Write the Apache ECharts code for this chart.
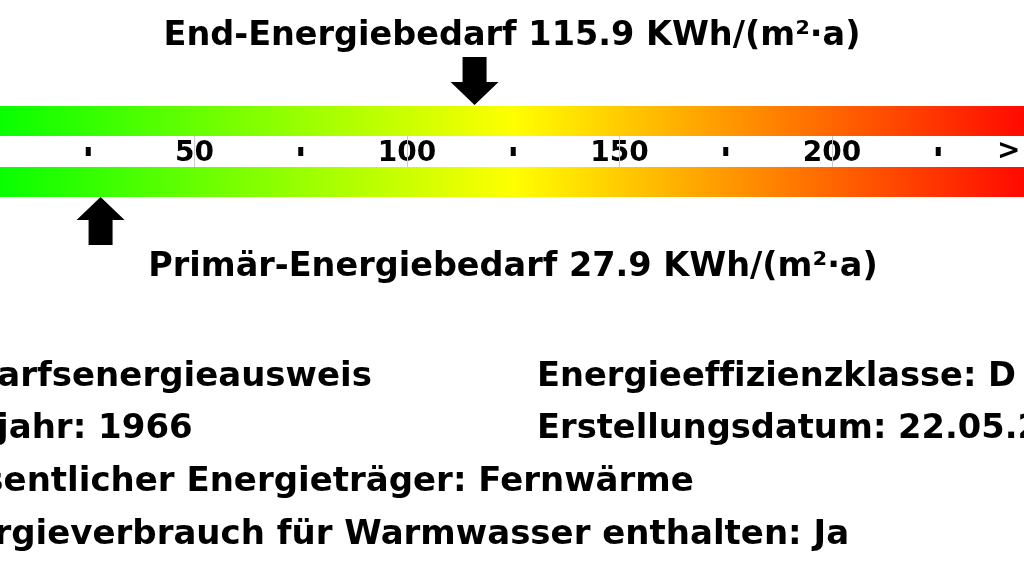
<!DOCTYPE html>
<html>
<head>
<meta charset="utf-8">
<script src="https://cdn.jsdelivr.net/npm/echarts@6/dist/echarts.min.js"></script>
<style>
html,body{margin:0;padding:0;background:#fff;}
#chart{width:1024px;height:576px;}
</style>
</head>
<body>
<div id="chart"></div>
<script>
// ---- data ----
const viewMin = 4.235;    // scale value at the left edge of the (cropped) picture
const viewMax = 245.18;   // scale value at the right edge
const labelValues = [50, 100, 150, 200];
const dotValues = [25, 75, 125, 175, 225];
const overflowLabel = ['>'];
const overflowValue = [241.6];
const barNames = ['End-Energiebedarf', 'Primär-Energiebedarf'];
const barValues = [115.9, 27.9];
const unitText = 'KWh/(m²·a)';
const infoLeft = [
  'Bedarfsenergieausweis',
  'Baujahr: 1966',
  'Wesentlicher Energieträger: Fernwärme',
  'Energieverbrauch für Warmwasser enthalten: Ja'
];
const infoRight = [
  'Energieef\u200Cf\u200Cizienzklasse: D',
  'Erstellungsdatum: 22.05.2'
];

// ---- chart ----
const chart = echarts.init(document.getElementById('chart'));
const FONT = '"DejaVu Sans", Verdana, sans-serif';

// gradient spans the full scale 0..250
const fullMin = 0, fullMax = 250;
const span = viewMax - viewMin;
const grad = () => new echarts.graphic.LinearGradient(
  (fullMin - viewMin) / span, 0, (fullMax - viewMin) / span, 0, [
  {offset: 0, color: '#00ff00'},
  {offset: 0.5, color: '#ffff00'},
  {offset: 1, color: '#ff0000'}
]);

const arrowDown = 'path://M12,0 H36 V25 H48 L24,48 L0,25 H12 Z';
const arrowUp = 'path://M24,0 L48,23 H36 V48 H12 V23 H0 Z';

const hiddenX = (gi) => ({
  type: 'value', gridIndex: gi, min: viewMin, max: viewMax,
  show: false, splitLine: {show: false}
});
const catY = (gi, name) => ({
  type: 'category', gridIndex: gi, data: [name], show: false
});

const titleStyle = {font: 'bold 33.5px ' + FONT, fill: '#000'};
const infoStyleL = {font: 'bold 34px ' + FONT, fill: '#000'};
const infoStyleR = {font: 'bold 33.7px ' + FONT, fill: '#000'};
const graphics = [];
graphics.push({
  type: 'text', x: 512, y: 36,
  style: Object.assign({text: barNames[0] + ' ' + barValues[0].toFixed(1) + ' ' + unitText,
    textAlign: 'center', textVerticalAlign: 'middle'}, titleStyle)
});
graphics.push({
  type: 'text', x: 513, y: 267,
  style: Object.assign({text: barNames[1] + ' ' + barValues[1].toFixed(1) + ' ' + unitText,
    textAlign: 'center', textVerticalAlign: 'middle'}, titleStyle)
});
const lineYs = [377, 429, 482, 535];
infoLeft.forEach((t, i) => graphics.push({
  type: 'text', x: -76, y: lineYs[i],
  style: Object.assign({text: t, textAlign: 'left', textVerticalAlign: 'middle'}, infoStyleL)
}));
infoRight.forEach((t, i) => graphics.push({
  type: 'text', x: 537, y: lineYs[i],
  style: Object.assign({text: t, textAlign: 'left', textVerticalAlign: 'middle'}, infoStyleR)
}));

chart.setOption({
  animation: false,
  backgroundColor: '#ffffff',
  grid: [
    {left: 0, right: 0, top: 106, height: 30},
    {left: 0, right: 0, top: 167, height: 30},
    {left: 0, right: 0, top: 136, height: 31}
  ],
  xAxis: [
    hiddenX(0),
    hiddenX(1),
    {
      type: 'value', gridIndex: 2, min: viewMin, max: viewMax,
      axisLine: {show: false}, axisTick: {show: false},
      splitLine: {show: false},
      axisLabel: {
        show: true, margin: -13.5, verticalAlign: 'middle',
        customValues: labelValues,
        color: '#000', fontFamily: FONT, fontWeight: 'bold', fontSize: 28,
        formatter: (v) => String(v)
      }
    }
  ],
  yAxis: [
    catY(0, barNames[0]),
    catY(1, barNames[1]),
    {type: 'value', gridIndex: 2, min: 0, max: 1, show: false, splitLine: {show: false}}
  ],
  series: [
    {
      type: 'bar', xAxisIndex: 0, yAxisIndex: 0, barWidth: 30,
      data: [viewMax], itemStyle: {color: grad()}, silent: true
    },
    {
      type: 'bar', xAxisIndex: 1, yAxisIndex: 1, barWidth: 30,
      data: [viewMax], itemStyle: {color: grad()}, silent: true
    },
    {
      type: 'scatter', xAxisIndex: 0, yAxisIndex: 0, clip: false, z: 5,
      symbol: arrowDown, symbolSize: [48, 48], symbolOffset: [0, -40],
      itemStyle: {color: '#000', opacity: 1},
      data: [[barValues[0], 0]]
    },
    {
      type: 'scatter', xAxisIndex: 1, yAxisIndex: 1, clip: false, z: 5,
      symbol: arrowUp, symbolSize: [48, 48], symbolOffset: [0, 39],
      itemStyle: {color: '#000', opacity: 1},
      data: [[barValues[1], 0]]
    },
    {
      type: 'scatter', xAxisIndex: 2, yAxisIndex: 2, clip: false,
      symbol: 'rect', symbolSize: [5, 9], itemStyle: {color: '#000', opacity: 1},
      data: dotValues.map(v => [v, 0.5]),
      markLine: {
        silent: true, symbol: 'none', label: {show: false},
        lineStyle: {color: '#cccccc', width: 1, type: 'solid'},
        data: labelValues.map(v => ({xAxis: v}))
      }
    },
    {
      type: 'scatter', xAxisIndex: 2, yAxisIndex: 2, clip: false,
      symbolSize: 0, itemStyle: {opacity: 1},
      label: {
        show: true, position: 'inside', color: '#000',
        fontFamily: FONT, fontWeight: 'bold', fontSize: 28,
        formatter: (p) => overflowLabel[p.dataIndex]
      },
      data: overflowValue.map(v => [v, 0.5])
    }
  ],
  graphic: graphics
});
</script>
</body>
</html>
